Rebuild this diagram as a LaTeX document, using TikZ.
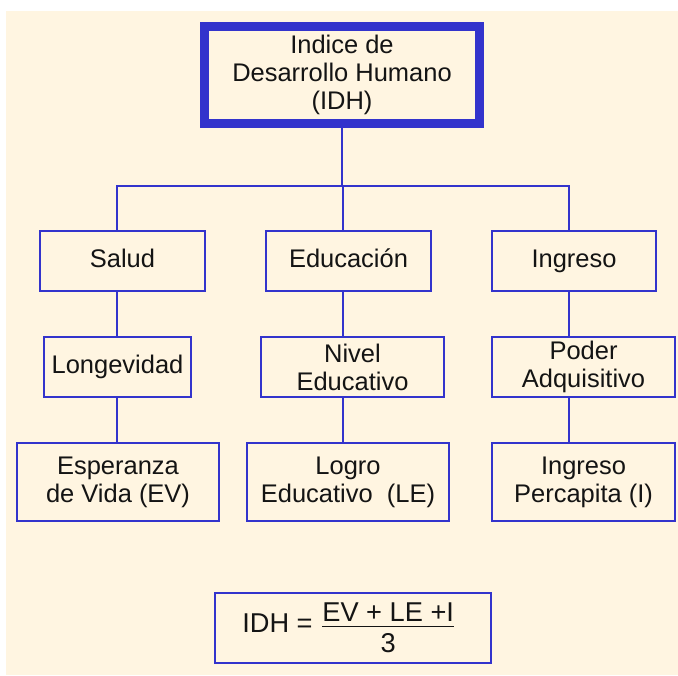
\documentclass[tikz,border=0pt]{standalone}
\usepackage{fontspec}
\setmainfont{Liberation Sans}
\usepackage{tikz}
\usetikzlibrary{positioning, calc}
\definecolor{bordeazul}{RGB}{51,51,204}
\definecolor{fondocrema}{RGB}{255,245,225}
\definecolor{textogris}{RGB}{20,20,20}

\begin{document}
\begin{tikzpicture}[x=0.02cm, y=-0.02cm,
    caja/.style={rectangle, draw=bordeazul, line width=0.04cm, align=center, inner sep=0pt, text=textogris, font=\fontsize{14.5}{16}\selectfont, minimum height=1.2cm},
    unalinea/.style={text height=1.75ex, text depth=0.45ex},
    linea/.style={bordeazul, line width=0.04cm}
]
    
    % === FONDO ===
    \useasboundingbox (0, 0) rectangle (678, 675);
    \fill[fondocrema] (6, 11) rectangle (678, 675);
    
    % === NIVEL 0 : IDH ===
    \node[caja, line width=0.18cm, minimum width=5.5cm, minimum height=1.94cm] (idh) at (342, 75) {
        Indice de\\
        Desarrollo Humano\\
        (IDH)
    };
    
    % === NIVEL 1 : Dimensiones ===
    \node[caja, unalinea, minimum width=3.3cm] (salud) at (122.5, 261) {Salud};
    \node[caja, unalinea, minimum width=3.3cm] (educacion) at (348.5, 261) {Educación};
    \node[caja, unalinea, minimum width=3.28cm] (ingreso) at (574, 261) {Ingreso};
    
    % === NIVEL 2 : Indicadores ===
    \node[caja, unalinea, minimum width=2.94cm] (longevidad) at (117.5, 367) {Longevidad};
    \node[caja, minimum width=3.66cm] (nivel) at (352.5, 367) {Nivel\\Educativo};
    \node[caja, minimum width=3.66cm] (poder) at (583.5, 367) {Poder\\Adquisitivo};
    
    % === NIVEL 3 : Índices ===
    \node[caja, minimum width=4.04cm, minimum height=1.56cm] (esperanza) at (118, 482) {Esperanza\\de Vida (EV)};
    \node[caja, minimum width=4.04cm, minimum height=1.56cm] (logro) at (348, 482) {Logro\\Educativo\ \ (LE)};
    \node[caja, minimum width=3.66cm, minimum height=1.56cm] (percapita) at (583.5, 482) {Ingreso\\Percapita (I)};
    
    % === COLUMNAS ===
    \coordinate (col1) at (117, 0);
    \coordinate (col2) at (343, 0);
    \coordinate (col3) at (569, 0);
    \coordinate (bus) at (0, 186);
    
    % === CONEXIONES ===
    \draw[linea] (idh.south) -- (idh.south |- bus);
    \draw[linea] (salud.north -| col1) -- (bus -| col1) -- (bus -| col3) -- (ingreso.north -| col3);
    \draw[linea] (bus -| col2) -- (educacion.north -| col2);
    \draw[linea] (salud.south -| col1) -- (longevidad.north -| col1);
    \draw[linea] (longevidad.south -| col1) -- (esperanza.north -| col1);
    \draw[linea] (educacion.south -| col2) -- (nivel.north -| col2);
    \draw[linea] (nivel.south -| col2) -- (logro.north -| col2);
    \draw[linea] (ingreso.south -| col3) -- (poder.north -| col3);
    \draw[linea] (poder.south -| col3) -- (percapita.north -| col3);
    
    % === FORMULA ===
    \node[caja, minimum width=5.52cm, minimum height=1.4cm, font=\fontsize{15.5}{18}\selectfont] (formula) at (353, 628) {
        IDH = $\frac{\mbox{EV + LE +I}\rule[-2pt]{0pt}{1pt}}{\rule{0pt}{14.5pt}\mbox{3}}$
    };
    
\end{tikzpicture}
\end{document}
